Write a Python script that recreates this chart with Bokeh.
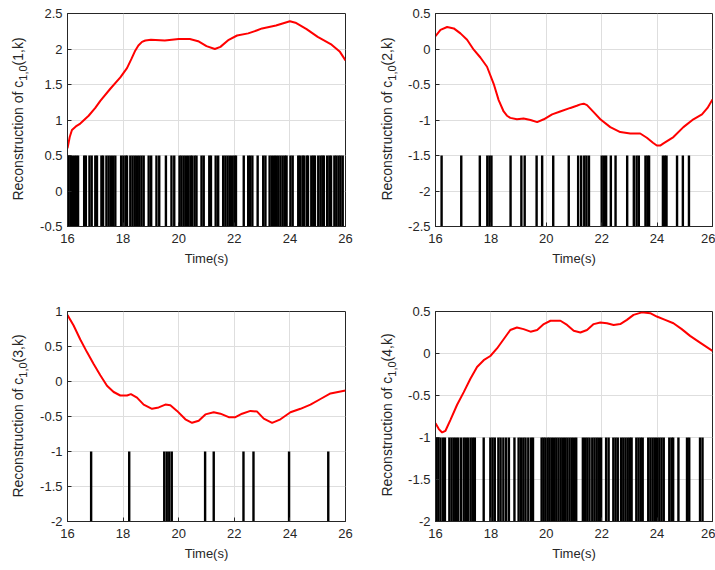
from bokeh.plotting import figure
from bokeh.layouts import column, row
from bokeh.models import FixedTicker, Range1d, Div
from bokeh.embed import file_html
from bokeh.resources import INLINE

# ---- data -------------------------------------------------------------
time_ticks = [16, 18, 20, 22, 24, 26]

# neuron 1
t_1 = [16.0, 16.08, 16.16, 16.3, 16.46, 16.76, 17.0, 17.18, 17.54, 17.9, 18.14, 18.3,
       18.44, 18.55, 18.68, 18.8, 19.0, 19.5, 20.0, 20.4, 20.7, 21.0, 21.3, 21.5,
       21.8, 22.1, 22.5, 22.8, 23.0, 23.5, 24.0, 24.2, 24.6, 25.0, 25.5, 25.8, 26.0]
c_1 = [0.6, 0.76, 0.86, 0.91, 0.95, 1.06, 1.17, 1.27, 1.44, 1.6, 1.73, 1.86,
       1.98, 2.05, 2.1, 2.12, 2.13, 2.12, 2.14, 2.14, 2.11, 2.04, 2.0, 2.03,
       2.13, 2.19, 2.22, 2.26, 2.29, 2.33, 2.39, 2.37, 2.28, 2.17, 2.06, 1.96, 1.84]
spikes_1 = [16.02, 16.1, 16.16, 16.24, 16.31, 16.38, 16.6, 16.66, 16.79, 16.87,
            17.0, 17.06, 17.22, 17.28, 17.4, 17.48, 17.56, 17.64, 17.72,
            17.93, 18.01, 18.09, 18.14, 18.26, 18.34, 18.42, 18.5, 18.58, 18.66, 18.74,
            18.92, 19.01, 19.2, 19.3, 19.54, 19.74, 19.84,
            20.03, 20.1, 20.18, 20.26, 20.34, 20.42, 20.48, 20.57, 20.64, 20.82, 20.9,
            21.1, 21.16, 21.33, 21.42, 21.6, 21.68, 21.76, 21.84, 21.92, 22.0, 22.06,
            22.34, 22.5, 22.57, 22.65, 22.84, 23.04, 23.12,
            23.27, 23.35, 23.43, 23.5, 23.58, 23.66, 23.74, 23.82, 23.88, 24.02, 24.1,
            24.3, 24.36, 24.45, 24.5, 24.6, 24.65, 24.77, 24.84, 24.9,
            25.02, 25.1, 25.17, 25.22, 25.34, 25.42, 25.48,
            25.6, 25.67, 25.75, 25.82, 25.9]

# neuron 2
t_2 = [16.0, 16.18, 16.42, 16.66, 16.9, 17.14, 17.38, 17.62, 17.86, 18.1, 18.28, 18.46,
       18.58, 18.7, 18.94, 19.18, 19.43, 19.67, 19.91, 20.21, 20.5, 20.87, 21.1, 21.23,
       21.35, 21.47, 21.59, 21.71, 21.95, 22.31, 22.67, 23.03, 23.39, 23.63, 23.85, 23.99,
       24.11, 24.23, 24.59, 24.95, 25.31, 25.62, 25.82, 26.0]
c_2 = [0.18, 0.27, 0.31, 0.29, 0.22, 0.13, -0.01, -0.12, -0.25, -0.49, -0.72, -0.88,
       -0.94, -0.97, -0.99, -0.98, -1.0, -1.03, -0.99, -0.92, -0.88, -0.83, -0.8, -0.78,
       -0.77, -0.79, -0.84, -0.89, -0.99, -1.1, -1.17, -1.19, -1.19, -1.25, -1.32, -1.36,
       -1.36, -1.33, -1.24, -1.1, -0.99, -0.92, -0.83, -0.71]
spikes_2 = [16.22, 16.93, 17.6, 17.87, 17.95, 18.02, 18.71, 19.1, 19.22, 19.65, 19.85,
            20.25, 20.81, 21.15, 21.26, 21.37, 21.45, 21.54, 22.0, 22.08, 22.16, 22.33,
            22.5, 22.92, 23.16, 23.26, 23.34, 23.58, 23.65, 23.71, 24.21, 24.28, 24.34,
            24.72, 24.93, 25.15]

# neuron 3
t_3 = [16.0, 16.22, 16.46, 16.7, 16.94, 17.18, 17.42, 17.66, 17.9, 18.14, 18.28, 18.5,
       18.74, 19.04, 19.28, 19.52, 19.7, 19.94, 20.24, 20.48, 20.72, 20.96, 21.26, 21.5,
       21.8, 22.04, 22.28, 22.58, 22.82, 23.06, 23.36, 23.66, 24.02, 24.38, 24.74, 25.1,
       25.46, 26.0]
c_3 = [0.95, 0.8, 0.6, 0.42, 0.25, 0.09, -0.06, -0.15, -0.2, -0.2, -0.18, -0.23,
       -0.33, -0.39, -0.37, -0.33, -0.34, -0.42, -0.54, -0.59, -0.56, -0.47, -0.44, -0.46,
       -0.51, -0.51, -0.46, -0.42, -0.43, -0.53, -0.59, -0.54, -0.44, -0.39, -0.33, -0.25,
       -0.17, -0.13]
spikes_3 = [16.85, 18.22, 19.48, 19.57, 19.66, 19.75, 20.95, 21.26, 22.33, 22.69,
            23.97, 25.38]

# neuron 4
t_4 = [16.0, 16.12, 16.24, 16.36, 16.54, 16.78, 17.02, 17.26, 17.5, 17.74, 17.98, 18.22,
       18.46, 18.7, 18.94, 19.18, 19.43, 19.67, 19.91, 20.15, 20.51, 20.75, 20.99, 21.23,
       21.47, 21.71, 21.95, 22.19, 22.43, 22.67, 22.91, 23.15, 23.45, 23.75, 23.99, 24.29,
       24.59, 24.89, 25.19, 25.55, 26.0]
c_4 = [-0.83, -0.9, -0.94, -0.92, -0.79, -0.61, -0.46, -0.3, -0.16, -0.08, -0.03, 0.06,
       0.17, 0.28, 0.31, 0.29, 0.26, 0.28, 0.35, 0.39, 0.39, 0.34, 0.27, 0.25,
       0.28, 0.35, 0.37, 0.36, 0.34, 0.35, 0.4, 0.46, 0.49, 0.48, 0.44, 0.4,
       0.36, 0.29, 0.21, 0.13, 0.03]
spikes_4 = [16.02, 16.1, 16.18, 16.27, 16.34, 16.5, 16.58, 16.66, 16.74, 16.82, 16.92,
            17.02, 17.1, 17.18, 17.27, 17.35, 17.42, 17.74, 17.98, 18.06, 18.14,
            18.27, 18.35, 18.45, 18.55, 18.65, 18.85, 19.0, 19.08, 19.17, 19.25, 19.35,
            19.45, 19.52, 19.83, 19.9, 19.97, 20.05, 20.12, 20.2, 20.28, 20.36, 20.44,
            20.52, 20.6, 20.68, 20.76, 20.84, 20.92, 21.0, 21.08, 21.32, 21.4, 21.48,
            21.56, 21.66, 21.74, 21.82, 21.9, 21.98, 22.16, 22.25, 22.42, 22.5, 22.58,
            22.7, 22.78, 22.86, 22.94, 23.02, 23.08, 23.25, 23.33, 23.41, 23.48,
            23.68, 23.76, 23.84, 23.92, 24.0, 24.08, 24.16, 24.24, 24.44, 24.52, 24.58,
            24.77, 25.08, 25.16, 25.55, 25.64]

y_ticks_1 = [-0.5, 0, 0.5, 1, 1.5, 2, 2.5]
y_ticks_2 = [-2.5, -2, -1.5, -1, -0.5, 0, 0.5]
y_ticks_3 = [-2, -1.5, -1, -0.5, 0, 0.5, 1]
y_ticks_4 = [-2, -1.5, -1, -0.5, 0, 0.5]

# spike rasters occupy the band from the bottom of each axis up to this level
spike_top = [0.5, -1.5, -1.0, -1.0]

FONT = "Liberation Sans"
INK = "#262626"
AXIS_GAP = 36          # room kept left of each frame for the tick labels
STRIP_L, FIG_L = 31, 329   # left column: label strip + figure (frame 278 px)
STRIP_R, FIG_R = 39, 316   # right column: label strip + figure (frame 277 px)


def fmt(v):
    return "%g" % v


def y_label(idx, width, height, cx, cy):
    """Rotated 'Reconstruction of c_{1,0}(idx,k)' with a real subscript."""
    inner = ('<div style="position:absolute;left:%dpx;top:%dpx;white-space:nowrap;'
             'transform:translate(-50%%,-50%%) rotate(-90deg);'
             'font-family:\'Liberation Sans\';font-size:14px;line-height:16px;color:%s">'
             'Reconstruction of c<span style="font-size:11px;position:relative;top:4px">'
             '1,0</span>(%d,k)</div>') % (cx, cy, INK, idx)
    html = ('<div style="position:relative;width:%dpx;height:%dpx;overflow:visible">%s</div>'
            % (width, height, inner))
    return Div(text=html, width=width, height=height, margin=0)


def panel(t, c, spikes, s_top, y_ticks, width, height, right, top, bottom):
    y0, y1 = y_ticks[0], y_ticks[-1]
    p = figure(width=width, height=height, output_backend="svg", toolbar_location=None,
               x_range=Range1d(16, 26), y_range=Range1d(y0, y1),
               min_border_left=AXIS_GAP, min_border_right=right,
               min_border_top=top, min_border_bottom=bottom,
               background_fill_color="white", border_fill_color="white")
    p.segment(x0=spikes, y0=[y0] * len(spikes), x1=spikes, y1=[s_top] * len(spikes),
              line_color="black", line_width=2.4)
    p.line(t, c, line_color="#ff0000", line_width=2)

    p.xaxis.ticker = FixedTicker(ticks=time_ticks)
    p.yaxis.ticker = FixedTicker(ticks=y_ticks)
    p.yaxis.major_label_overrides = {float(v): fmt(v) for v in y_ticks}
    p.xaxis.axis_label = "Time(s)"
    for ax in (p.xaxis, p.yaxis):
        ax.major_label_text_font = FONT
        ax.major_label_text_font_size = "13px"
        ax.major_label_text_color = INK
        ax.axis_label_text_font = FONT
        ax.axis_label_text_font_size = "13px"
        ax.axis_label_text_font_style = "normal"
        ax.axis_label_text_color = INK
        ax.axis_line_color = INK
        ax.major_tick_line_color = INK
        ax.major_tick_in = 4
        ax.major_tick_out = 0
        ax.minor_tick_line_color = None
    p.xaxis.major_label_standoff = 7
    p.xaxis.axis_label_standoff = 5
    p.yaxis.major_label_standoff = 5
    p.grid.grid_line_color = "#dedede"
    p.outline_line_color = INK
    p.outline_line_alpha = 1
    return p


p1 = panel(t_1, c_1, spikes_1, spike_top[0], y_ticks_1, FIG_L, 285, 15, 13, 59)
p2 = panel(t_2, c_2, spikes_2, spike_top[1], y_ticks_2, FIG_R, 285, 3, 13, 59)
p3 = panel(t_3, c_3, spikes_3, spike_top[2], y_ticks_3, FIG_L, 285, 15, 26, 49)
p4 = panel(t_4, c_4, spikes_4, spike_top[3], y_ticks_4, FIG_R, 285, 3, 24, 49)

d1 = y_label(1, STRIP_L, 285, 18, 119)
d2 = y_label(2, STRIP_R, 285, 27, 119)
d3 = y_label(3, STRIP_L, 285, 18, 131)
d4 = y_label(4, STRIP_R, 285, 27, 130)

layout = column(row(d1, p1, d2, p2), row(d3, p3, d4, p4))
open("out.html", "w").write(file_html(layout, INLINE))
